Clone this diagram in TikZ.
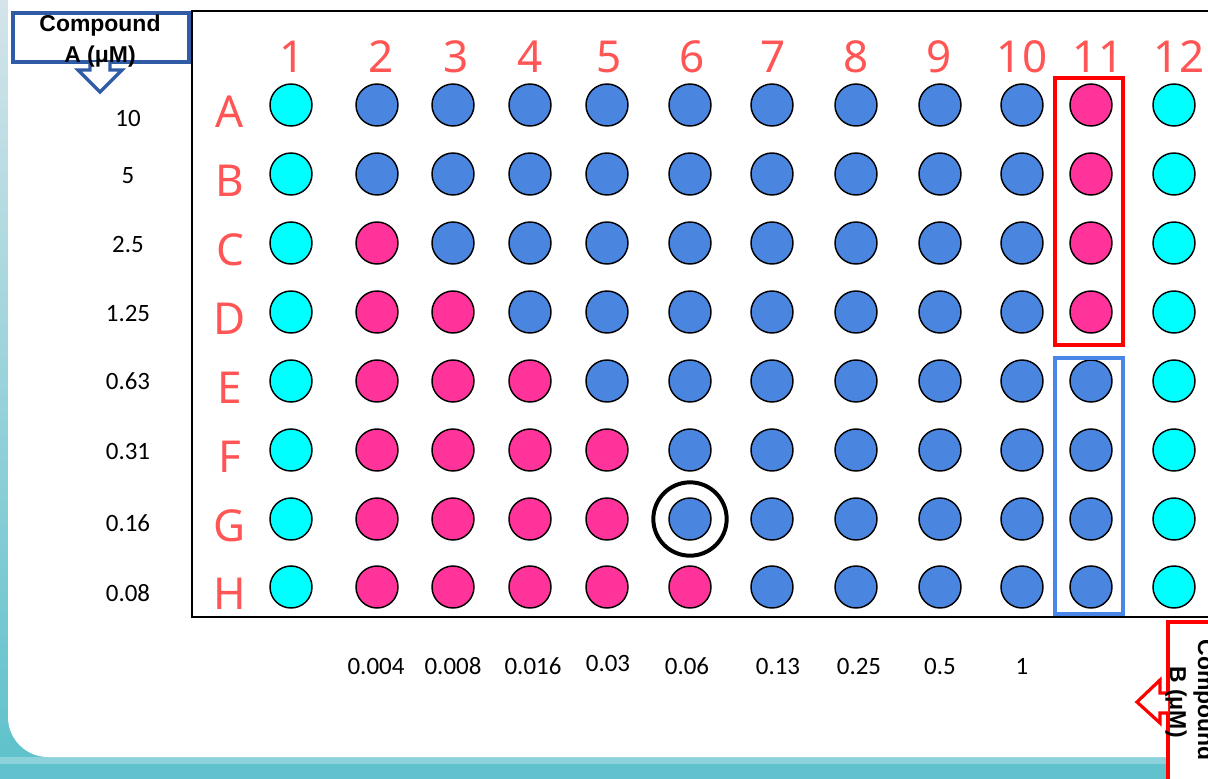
\documentclass[tikz,border=0pt]{standalone}
\usepackage{fontspec}
\setmainfont{Carlito}
\newfontfamily\hdrfont{Noto Sans}
\newfontfamily\cmpfont{Liberation Sans}
\definecolor{cyanw}{RGB}{0,255,255}
\definecolor{bluew}{RGB}{74,134,224}
\definecolor{pinkw}{RGB}{255,51,153}
\definecolor{hdrred}{RGB}{255,85,85}
\definecolor{boxblue}{RGB}{74,134,232}
\definecolor{darkblue}{RGB}{47,92,165}
\definecolor{tealband}{RGB}{96,194,204}
\definecolor{teallight}{RGB}{140,210,218}
\definecolor{striptop}{RGB}{212,228,234}
\tikzset{
  well/.style={circle, draw=black, line width=1.1pt, minimum size=31.5pt, inner sep=0pt},
  ringmark/.style={circle, draw=black, line width=3pt, minimum size=55pt, inner sep=0pt},
  hdr/.style={text=hdrred, font=\hdrfont\fontsize{33}{33}\selectfont, inner sep=0pt},
  conc/.style={text=black, font=\fontsize{18.7}{18.7}\selectfont, inner sep=0pt},
  cmp/.style={text=black, font=\cmpfont\bfseries\fontsize{17.2}{17.2}\selectfont, inner sep=0pt},
}
\begin{document}
\begin{tikzpicture}[x=0.75pt,y=-0.75pt]
\useasboundingbox (0,0) rectangle (1208,779);
\clip (0,0) rectangle (1208,779);
% background
\fill[tealband] (0,0) rectangle (1208,779);
\shade[top color=striptop, bottom color=tealband] (0,0) rectangle (10,757);
\fill[teallight] (0,757) rectangle (1208,764);
\fill[white, rounded corners=30] (8,-60) rectangle (1300,757);
% plate frame
\draw[line width=1.5pt] (1230,11) -- (192,11) -- (192,617) -- (1230,617);
% wells
\foreach \r/\i/\y/\lim in {A/1/105/1, B/2/174/1, C/3/243/2, D/4/312/3, E/5/381/4, F/6/450/5, G/7/519/5, H/8/587/6}{
  \foreach \c/\x in {1/291, 2/377, 3/453, 4/530, 5/607, 6/690, 7/772, 8/856, 9/940, 10/1022, 11/1091, 12/1174}{
    \def\wc{bluew}
    \ifnum\c=1 \def\wc{cyanw}\fi
    \ifnum\c=12 \def\wc{cyanw}\fi
    \ifnum\c>1 \ifnum\c>\lim\else\def\wc{pinkw}\fi\fi
    \ifnum\c=11 \ifnum\i<5 \def\wc{pinkw}\fi\fi
    \node[well, fill=\wc] (\r\c) at (\x,\y) {};
  }
  \node[hdr, anchor=base] (row\r) at (230,{\y+22}) {\r};
}
\node[ringmark] (ringG6) at (G6) {};
% column headers
\foreach \c/\x in {1/292, 2/381, 3/456, 4/530, 5/609, 6/692, 7/773, 8/856, 9/939, 10/1022, 11/1098, 12/1179}{
  \node[hdr, anchor=base] (col\c) at (\x,72) {\c};
}
% highlight boxes
\draw[red, line width=3pt] (1055,78) rectangle (1123,345);
\draw[boxblue, line width=3pt] (1055,358) rectangle (1123,614);
% compound A concentrations
\foreach \n/\t/\y in {a/10/126, b/5/183, c/2.5/252, d/1.25/321, e/0.63/389, f/0.31/459, g/0.16/531, h/0.08/601}{
  \node[conc, anchor=base] (ca\n) at (128,\y) {\t};
}
% compound B concentrations
\foreach \n/\t/\x/\y in {a/0.004/376/674, b/0.008/453/674, c/0.016/533/674, d/0.03/608/671, e/0.06/687/674, f/0.13/778/674, g/0.25/859/674, h/0.5/940/674, i/1/1022/674}{
  \node[conc, anchor=base] (cb\n) at (\x,\y) {\t};
}
% Compound A label box and arrow
\node[draw=darkblue, line width=2.6pt, fill=white, minimum width=132pt, minimum height=37pt, inner sep=0pt] (boxA) at (101,37.5) {};
\filldraw[draw=darkblue, fill=white, line width=2.6pt, line join=miter] (90,62) -- (90,70) -- (78,70) -- (100,92) -- (122,70) -- (110,70) -- (110,62);
\node[cmp, anchor=base] (cmpA1) at (100,31) {Compound};
\node[cmp, anchor=base] (cmpA2) at (100,62) {A (μM)};
% Compound B label box and arrow
\filldraw[draw=red, fill=white, line width=2.4pt] (1168,622) rectangle (1260,820);
\filldraw[draw=red, fill=white, line width=2.4pt, line join=miter] (1168,693) -- (1160,693) -- (1160,680) -- (1137,702) -- (1160,723) -- (1160,713) -- (1168,713);
\node[cmp, anchor=base, rotate=-90] (cmpB2) at (1170,702) {B (μM)};
\node[cmp, anchor=base, rotate=-90] (cmpB1) at (1198,700) {Compound};
\end{tikzpicture}
\end{document}
